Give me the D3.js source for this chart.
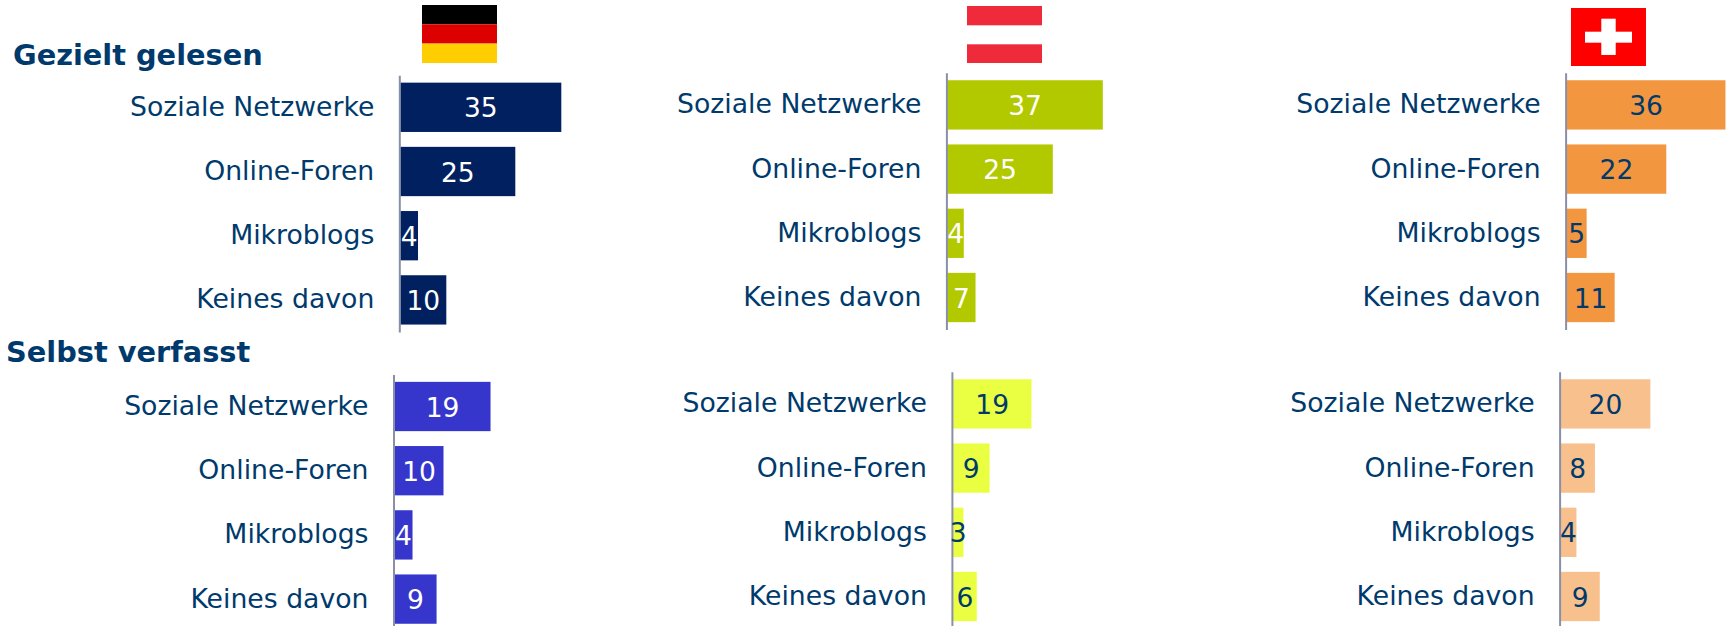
<!DOCTYPE html>
<html><head><meta charset="utf-8">
<script src="https://cdn.jsdelivr.net/npm/d3@7"></script>
<style>html,body{margin:0;background:#fff;overflow:hidden}svg{display:block}text{font-family:"DejaVu Sans",sans-serif}</style>
</head><body><svg id="c" width="1728" height="626"></svg>
<script>
const categories = ["Soziale Netzwerke","Online-Foren","Mikroblogs","Keines davon"];
const groupTitles = ["Gezielt gelesen","Selbst verfasst"];
const deRead = [35,25,3.85,10];
const deWrite = [19.4,9.9,3.64,8.5];
const atRead = [37,25.1,3.9,6.7];
const atWrite = [19.4,9.06,2.6,5.9];
const chRead = [35.7,22.4,4.5,10.8];
const chWrite = [20.4,7.8,3.6,8.9];

const layout = [
 {v:deRead, x:399.3, y:75.2, u:4.6, fill:"#00205f", txt:"#fff"},
 {v:deWrite, x:393.5, y:374.4, u:4.95, fill:"#3636cc", txt:"#fff"},
 {v:atRead, x:946.4, y:72.8, u:4.2, fill:"#b2c900", txt:"#fff"},
 {v:atWrite, x:951.9, y:371.8, u:4.05, fill:"#eaff42", txt:"#003a6c"},
 {v:chRead, x:1565.6, y:72.8, u:4.45, fill:"#f39640", txt:"#003a6c"},
 {v:chWrite, x:1559.6, y:371.8, u:4.4, fill:"#f8c08c", txt:"#003a6c"}
];
const svg = d3.select("#c"), ink = "#003a6c", step = 64.2;
layout.forEach(p=>{
  const g = svg.append("g").attr("transform",`translate(${p.x},0)`);
  const xs = d3.scaleLinear().domain([0,40]).range([1,1+40*p.u]);
  const ys = d3.scaleBand().domain(categories).range([p.y,p.y+4*step]).paddingInner(.232).paddingOuter(.116);
  g.selectAll("rect").data(p.v).join("rect")
    .attr("x",xs(0)).attr("y",(d,i)=>ys(categories[i])).attr("width",d=>xs(d)-xs(0)).attr("height",ys.bandwidth()).attr("fill",p.fill);
  const ax = g.append("g").call(d3.axisLeft(ys).tickSize(0).tickPadding(25));
  ax.select(".domain").attr("stroke","#8a8fa8").attr("stroke-width",2);
  ax.selectAll("text").attr("fill",ink).attr("font-size",26.7).style("font-family",'"DejaVu Sans",sans-serif').attr("dy","0.32em");
  g.selectAll("text.val").data(p.v).join("text").attr("class","val")
    .attr("x",d=>(xs(d)+xs(0))/2).attr("y",(d,i)=>ys(categories[i])+ys.bandwidth()/2).attr("dy","0.38em")
    .attr("text-anchor","middle").attr("font-size",26.5).attr("fill",p.txt).text(d=>d3.format(".0f")(d));
});
[[13,65],[6,362]].forEach((t,i)=>svg.append("text").attr("x",t[0]).attr("y",t[1]).attr("font-size",28.8).attr("font-weight","bold").attr("fill",ink).text(groupTitles[i]));
const R=(x,y,w,h,f)=>svg.append("rect").attr("x",x).attr("y",y).attr("width",w).attr("height",h).attr("fill",f);
R(422,5,75,19.3,"#000");R(422,24.3,75,19.3,"#dd0000");R(422,43.6,75,19.4,"#ffce00");
R(967,6,75,19.3,"#ef2b3b");R(967,44.3,75,18.7,"#ef2b3b");
R(1571,8,75,58,"#ff0000");R(1585,31.7,47,11,"#fff");R(1601.3,18.7,14.4,36.3,"#fff");
</script></body></html>
